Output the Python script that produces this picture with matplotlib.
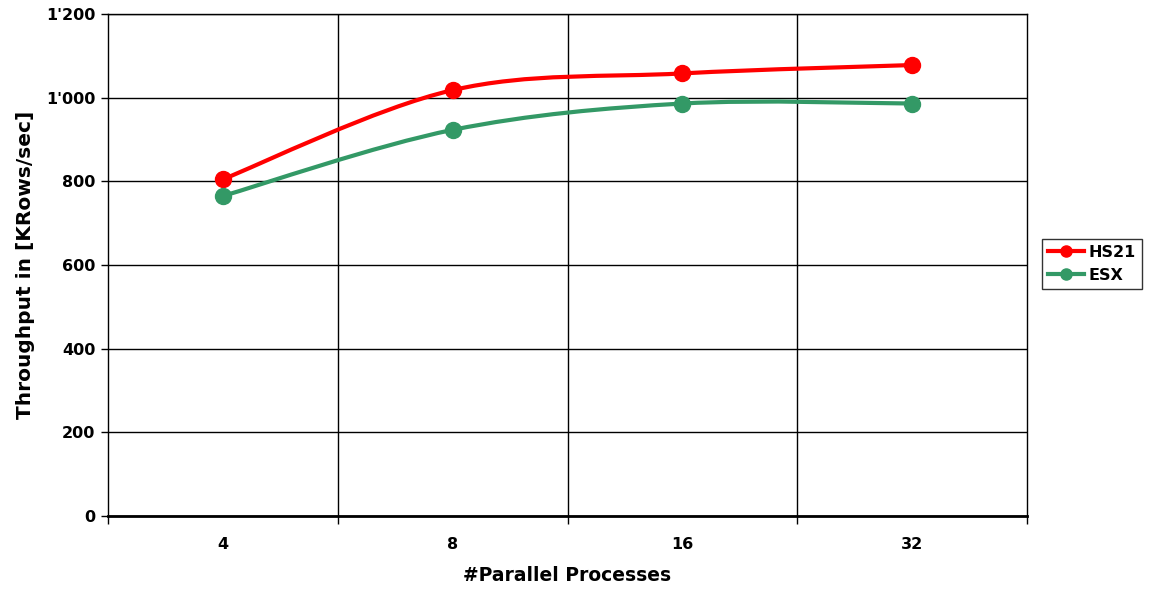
#!/usr/bin/env python3
"""Throughput vs. number of parallel processes, HS21 blade vs. ESX."""
import matplotlib
matplotlib.use("Agg")

import matplotlib.pyplot as plt  # noqa: E402
import numpy as np  # noqa: E402
from matplotlib.path import Path  # noqa: E402
from matplotlib.patches import PathPatch  # noqa: E402
from matplotlib.lines import Line2D  # noqa: E402
from matplotlib.ticker import FuncFormatter, FixedLocator  # noqa: E402

categories = ["4", "8", "16", "32"]
hs21 = [805, 1018, 1058, 1078]
esx = [765, 923, 986, 986]

RED = "#ff0000"
GREEN = "#339966"

plt.rcParams["font.family"] = ["DejaVu Sans"]
plt.rcParams["font.weight"] = "bold"


def smooth_path(x, y):
    """Catmull-Rom style bezier through the points (like spreadsheet smoothed lines)."""
    x = np.asarray(x, float)
    y = np.asarray(y, float)
    px = np.concatenate([[x[0]], x, [x[-1]]])
    py = np.concatenate([[y[0]], y, [y[-1]]])
    verts = [(x[0], y[0])]
    codes = [Path.MOVETO]
    for i in range(1, len(px) - 2):
        c1 = (px[i] + (px[i + 1] - px[i - 1]) / 6, py[i] + (py[i + 1] - py[i - 1]) / 6)
        c2 = (px[i + 1] - (px[i + 2] - px[i]) / 6, py[i + 1] - (py[i + 2] - py[i]) / 6)
        verts += [c1, c2, (px[i + 1], py[i + 1])]
        codes += [Path.CURVE4] * 3
    return Path(verts, codes)


fig = plt.figure(figsize=(11.5, 5.9), dpi=100)
ax = fig.add_axes([108 / 1150, 74 / 590, 919 / 1150, 502 / 590])

x = np.arange(len(categories))
for values, color, label in [(hs21, RED, "HS21"), (esx, GREEN, "ESX")]:
    ax.add_patch(PathPatch(smooth_path(x, values), fill=False, edgecolor=color,
                           linewidth=3, capstyle="round", zorder=3))
    ax.plot(x, values, linestyle="none", marker="o", markersize=11.5,
            color=color, zorder=4, label=label)

ax.set_xlim(-0.5, len(categories) - 0.5)
ax.set_ylim(0, 1200)

ax.yaxis.set_major_locator(FixedLocator(range(0, 1201, 200)))
ax.yaxis.set_major_formatter(FuncFormatter(lambda v, _: f"{int(v):,}".replace(",", "'")))
ax.grid(axis="y", color="black", linewidth=1)

# category labels sit between the boundary ticks
ax.set_xticks(x)
ax.set_xticklabels(categories)
ax.set_xticks(np.arange(-0.5, len(categories)), minor=True)
ax.tick_params(axis="x", which="major", length=0, pad=15, labelsize=11.5)
ax.tick_params(axis="x", which="minor", length=6, width=1, direction="out")
ax.tick_params(axis="y", length=5, width=1, labelsize=11.5, pad=4)
for b in np.arange(0.5, len(categories) - 1):
    ax.axvline(b, color="black", linewidth=1, zorder=1)
ax.set_axisbelow(True)

for side in ["top", "right", "left"]:
    ax.spines[side].set_linewidth(1)
ax.spines["bottom"].set_linewidth(2)

ax.set_xlabel("#Parallel Processes", fontsize=13.5, fontweight="bold", labelpad=10)
ax.set_ylabel("Throughput in [KRows/sec]", fontsize=14.5, fontweight="bold", labelpad=8)

handles = [Line2D([], [], color=RED, linewidth=3, marker="o", markersize=8),
           Line2D([], [], color=GREEN, linewidth=3, marker="o", markersize=8)]
leg = fig.legend(handles, ["HS21", "ESX"], loc="center left",
                 bbox_to_anchor=(1042 / 1150, 1 - 264 / 590), frameon=True,
                 fancybox=False, edgecolor="black", fontsize=11.5,
                 handlelength=2.2, handletextpad=0.3, borderpad=0.4,
                 labelspacing=0.5, borderaxespad=0)
leg.get_frame().set_linewidth(1)
for t in leg.get_texts():
    t.set_fontweight("bold")

fig.savefig("out.png", dpi=100)
